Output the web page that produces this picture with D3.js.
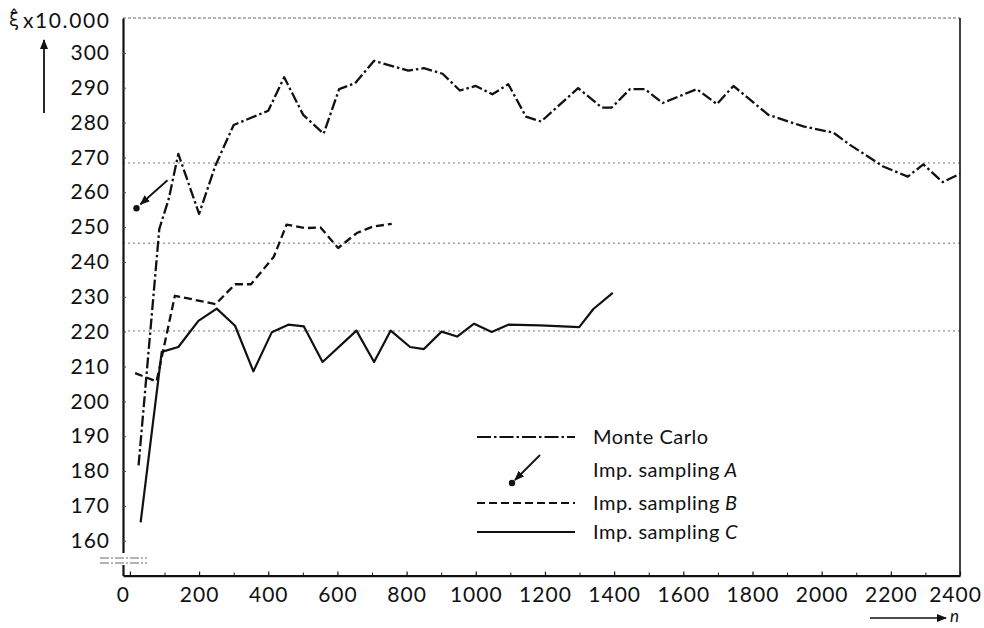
<!DOCTYPE html>
<html><head><meta charset="utf-8">
<script src="https://cdn.jsdelivr.net/npm/d3@7"></script>
<style>
body{margin:0;background:#fff}
svg text{font-family:Lato,"Open Sans",sans-serif;fill:#111}
</style>
</head><body>
<svg id="chart" width="984" height="628"></svg>
<script>
// ---- data ----
const mcN = [25,85,112,140,200,247,300,400,446,501,560,605,651,706,805,850,904,954,1000,1048,1094,1145,1189,1296,1364,1393,1446,1489,1540,1639,1697,1745,1846,1947,2034,2082,2178,2249,2294,2350,2400];
const mcV = [181.6,249.5,258,271.0,253.8,267.6,279.3,283.4,293.0,282.2,276.8,289.6,291.3,297.7,294.9,295.6,294.0,289.2,290.5,288.1,291.0,281.7,280.3,289.9,284.3,284.3,289.6,289.6,285.6,289.6,285.3,290.5,282.2,278.9,277.1,273.6,267.4,264.5,268.0,262.9,265.3];

const aN = [19];
const aV = [255.4];

const bN = [15,77,130,248,304,350,416,453,506,551,602,656,704,757];
const bV = [208.1,205.7,230.3,227.9,233.6,233.6,241.5,250.7,249.7,249.9,244.0,248.3,250.2,250.9];

const cN = [31,92,140,198,251,304,357,410,458,503,557,655,706,754,810,850,901,946,995,1046,1094,1186,1299,1340,1396];
const cV = [165.3,214.2,215.6,223.1,226.6,221.7,208.6,219.8,222.0,221.5,211.3,220.3,211.3,220.3,215.6,215.0,220.0,218.6,222.3,219.9,222.0,221.8,221.3,226.5,231.1];

const refValues = [268.4,245.4,220.2];

const xTickValues = [0,200,400,600,800,1000,1200,1400,1600,1800,2000,2200,2400];
const xMinorTicks = [100,300,500,700,900,1100,1300,1500,1700,1900,2100,2300];
const yTickValues = [160,170,180,190,200,210,220,230,240,250,260,270,280,290,300];

const legendNames = ["Monte Carlo","Imp. sampling","Imp. sampling","Imp. sampling"];
const legendLetters = ["","A","B","C"];

// ---- drawing ----
const svg = d3.select("#chart");
const x = d3.scaleLinear().domain([-20,2400]).range([123,960]);
const y = d3.scaleLinear().domain([150,310]).range([575.6,18]);

const defs = svg.append("defs");
defs.append("marker").attr("id","ah").attr("viewBox","0 0 10 8")
  .attr("refX",9).attr("refY",4).attr("markerWidth",10).attr("markerHeight",8)
  .attr("markerUnits","userSpaceOnUse").attr("orient","auto")
  .append("path").attr("d","M0,0L10,4L0,8Z").attr("fill","#111");

// reference dotted lines and top frame
svg.selectAll("line.ref").data(refValues).join("line")
  .attr("x1",x(-20)).attr("x2",x(2400))
  .attr("y1",d=>y(d)).attr("y2",d=>y(d))
  .attr("stroke","#777").attr("stroke-width",1).attr("stroke-dasharray","2,3");
svg.append("line").attr("x1",x(-20)).attr("x2",x(2400)).attr("y1",y(310)).attr("y2",y(310))
  .attr("stroke","#666").attr("stroke-width",1).attr("stroke-dasharray","3,2");

// right axis
svg.append("line").attr("x1",x(2400)).attr("x2",x(2400)).attr("y1",y(310)).attr("y2",y(150))
  .attr("stroke","#111").attr("stroke-width",1.6);

const tickFont = 21;
// y axis
const gy = svg.append("g").attr("transform",`translate(${x(-20)},0)`)
  .call(d3.axisLeft(y).tickValues(yTickValues).tickSizeInner(-3).tickSizeOuter(0).tickPadding(13));
gy.select(".domain").attr("stroke","#111").attr("stroke-width",2.2);
gy.selectAll(".tick line").attr("stroke","#444");
gy.selectAll(".tick text").attr("font-size",tickFont).attr("font-family",null).attr("letter-spacing",1);

// x axis
const gx = svg.append("g").attr("transform",`translate(0,${y(150)})`)
  .call(d3.axisBottom(x).tickValues(xTickValues).tickFormat(d3.format("d"))
    .tickSizeInner(-4).tickSizeOuter(0).tickPadding(11));
gx.select(".domain").attr("stroke","#111").attr("stroke-width",2.2);
gx.selectAll(".tick line").attr("stroke","#111").attr("stroke-width",1.2);
gx.selectAll(".tick text").attr("font-size",tickFont).attr("font-family",null).attr("letter-spacing",1);
gx.selectAll(".tick").filter(d=>d===0).select("text").attr("dx",-7);
gx.selectAll(".tick").filter(d=>d===2400).select("text").attr("dx",-5);
const gxm = svg.append("g").attr("transform",`translate(0,${y(150)})`)
  .call(d3.axisBottom(x).tickValues(xMinorTicks).tickSizeInner(-3).tickSizeOuter(0).tickFormat(""));
gxm.select(".domain").remove();
gxm.selectAll(".tick line").attr("stroke","#111").attr("stroke-width",1);

// axis break marks
svg.append("rect").attr("x",x(-20)-3).attr("y",553).attr("width",6).attr("height",12).attr("fill","#fff");
[558,563].forEach(yy=>{
  svg.append("line").attr("x1",100).attr("x2",147).attr("y1",yy).attr("y2",yy)
    .attr("stroke","#666").attr("stroke-width",1).attr("stroke-dasharray","9,2,2,2");
});

// series
const line = d3.line().x(d=>x(d[0])).y(d=>y(d[1]));
const mcData = d3.zip(mcN,mcV), bData = d3.zip(bN,bV), cData = d3.zip(cN,cV);
const mcDash = "11,3,2.5,3";
const bDash = "8,4";
svg.append("path").datum(mcData).attr("d",line).attr("fill","none").attr("stroke","#111")
  .attr("stroke-width",2.3).attr("stroke-dasharray",mcDash).attr("stroke-linejoin","round");
svg.append("path").datum(bData).attr("d",line).attr("fill","none").attr("stroke","#111")
  .attr("stroke-width",2.3).attr("stroke-dasharray",bDash).attr("stroke-linejoin","round");
svg.append("path").datum(cData).attr("d",line).attr("fill","none").attr("stroke","#111")
  .attr("stroke-width",2.2).attr("stroke-linejoin","round");

// Imp. sampling A: single point with pointing arrow
d3.zip(aN,aV).forEach(([n,v])=>{
  const px = x(n), py = y(v);
  svg.append("circle").attr("cx",px).attr("cy",py).attr("r",3.2).attr("fill","#111");
  svg.append("line").attr("x1",px+31).attr("y1",py-28).attr("x2",px+4).attr("y2",py-4)
    .attr("stroke","#111").attr("stroke-width",1.8).attr("marker-end","url(#ah)");
});

// y label
svg.append("text").attr("x",23).attr("y",28).attr("font-size",21).attr("letter-spacing",1.6).text("x10.000");
svg.append("text").attr("x",9).attr("y",26).attr("font-size",18)
  .style("font-family","DejaVu Sans").text("\u03BE\u0302");
svg.append("line").attr("x1",44).attr("x2",44).attr("y1",113).attr("y2",40)
  .attr("stroke","#111").attr("stroke-width",1.8).attr("marker-end","url(#ah)");

// n arrow
svg.append("line").attr("x1",870).attr("x2",946).attr("y1",618).attr("y2",618)
  .attr("stroke","#111").attr("stroke-width",1.6).attr("marker-end","url(#ah)");
svg.append("text").attr("x",950).attr("y",622).attr("font-size",17).attr("font-style","italic").text("n");

// legend
const lgY = [437,470,503,532];
const lg = svg.append("g");
legendNames.forEach((name,i)=>{
  const t = lg.append("text").attr("x",593).attr("y",lgY[i]+7).attr("font-size",20).attr("letter-spacing",0.5).text(name);
  if (legendLetters[i]) t.append("tspan").attr("font-style","italic").text(" " + legendLetters[i]);
});
lg.append("line").attr("x1",477).attr("x2",575).attr("y1",lgY[0]).attr("y2",lgY[0])
  .attr("stroke","#111").attr("stroke-width",2.2).attr("stroke-dasharray","14,3,2.5,3");
lg.append("circle").attr("cx",512).attr("cy",483).attr("r",3.2).attr("fill","#111");
lg.append("line").attr("x1",540).attr("y1",455).attr("x2",515).attr("y2",480)
  .attr("stroke","#111").attr("stroke-width",1.8).attr("marker-end","url(#ah)");
lg.append("line").attr("x1",477).attr("x2",575).attr("y1",lgY[2]).attr("y2",lgY[2])
  .attr("stroke","#111").attr("stroke-width",2.2).attr("stroke-dasharray",bDash);
lg.append("line").attr("x1",477).attr("x2",575).attr("y1",lgY[3]).attr("y2",lgY[3])
  .attr("stroke","#111").attr("stroke-width",2.2);
</script>
</body></html>
